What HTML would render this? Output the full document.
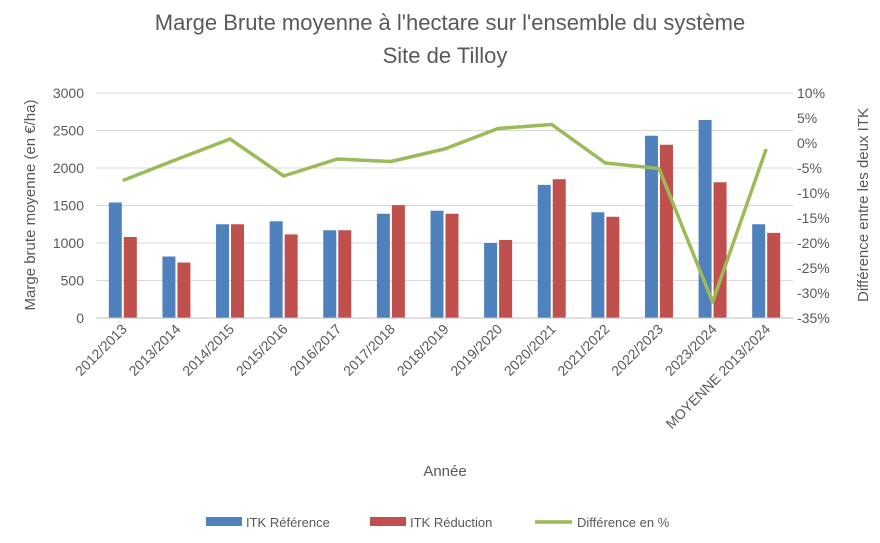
<!DOCTYPE html>
<html><head><meta charset="utf-8"><style>
body{margin:0;background:#fff}
text{font-family:"Liberation Sans",sans-serif;fill:#595959}
</style></head><body>
<svg id="c" width="880" height="538">
<text x="450" y="30" text-anchor="middle" font-size="22">Marge Brute moyenne à l'hectare sur l'ensemble du système</text>
<text x="445" y="63" text-anchor="middle" font-size="22">Site de Tilloy</text>
<g id="grid"></g><g id="bars"></g><g id="line"></g><g id="axes"></g>
<text transform="translate(35,205) rotate(-90)" text-anchor="middle" font-size="15">Marge brute moyenne (en €/ha)</text>
<text transform="translate(868,205) rotate(-90)" text-anchor="middle" font-size="15">Différence entre les deux ITK</text>
<text x="445" y="476" text-anchor="middle" font-size="15">Année</text>
<g>
<rect x="206" y="517" width="36" height="9" fill="#4f81bd"/>
<text x="246" y="527" font-size="13">ITK Référence</text>
<rect x="370" y="517" width="36" height="9" fill="#c0504d"/>
<text x="410" y="527" font-size="13">ITK Réduction</text>
<line x1="535" y1="522" x2="572" y2="522" stroke="#9bbb59" stroke-width="3.5"/>
<text x="577" y="527" font-size="13">Différence en %</text>
</g>
</svg>
<script>
const categories=["2012/2013","2013/2014","2014/2015","2015/2016","2016/2017","2017/2018","2018/2019","2019/2020","2020/2021","2021/2022","2022/2023","2023/2024","MOYENNE 2013/2024"];
const reference=[1540,820,1250,1290,1170,1390,1430,1000,1775,1410,2430,2640,1250];
const reduction=[1080,740,1250,1115,1170,1505,1390,1040,1850,1350,2310,1810,1135];
const difference=[-7.5,-3.3,0.8,-6.6,-3.2,-3.7,-1.2,2.9,3.7,-4.0,-5.1,-31.8,-1.2];
const leftTicks=[0,500,1000,1500,2000,2500,3000];
const rightTicks=[10,5,0,-5,-10,-15,-20,-25,-30,-35];
const NS="http://www.w3.org/2000/svg";
const L=96,R=793,T=93,B=318;
const step=(R-L)/categories.length;
const y=v=>B-(v/3000)*(B-T);
const y2=v=>T+(10-v)/45*(B-T);
const xc=i=>L+step*(i+0.5);
function mk(p,tag,a,t){const e=document.createElementNS(NS,tag);for(const k in a)e.setAttribute(k,a[k]);if(t!==undefined)e.textContent=t;document.getElementById(p).appendChild(e);return e;}
leftTicks.forEach(v=>{
 const g=mk('grid','line',{x1:L,x2:R,y1:y(v),y2:y(v),stroke:'#d9d9d9','stroke-width':1});
 
 
 const t=mk('axes','text',{x:L-12,y:y(v)+5,'text-anchor':'end','font-size':14},v);
 
 
});
rightTicks.forEach(v=>{
 const t=mk('axes','text',{x:R+4,y:y2(v)+5,'font-size':14},v+'%');
 
 
});
const bw=13;
categories.forEach((c,i)=>{
 const a=mk('bars','rect',{x:xc(i)-bw-1,y:y(reference[i]),width:bw,height:B-y(reference[i]),fill:'#4f81bd'});
 
 
 const b=mk('bars','rect',{x:xc(i)+1,y:y(reduction[i]),width:bw,height:B-y(reduction[i]),fill:'#c0504d'});
 
 
 const t=mk('axes','text',{transform:`translate(${xc(i)+5},${B+12}) rotate(-45)`,'text-anchor':'end','font-size':14},c);
 
 
});
const ax=mk('axes','line',{x1:L,x2:R,y1:B,y2:B,stroke:'#bfbfbf'});


const pl=mk('line','polyline',{points:difference.map((v,i)=>xc(i)+','+y2(v)).join(' '),fill:'none',stroke:'#9bbb59','stroke-width':3.5,'stroke-linejoin':'round'});


</script>
</body></html>
